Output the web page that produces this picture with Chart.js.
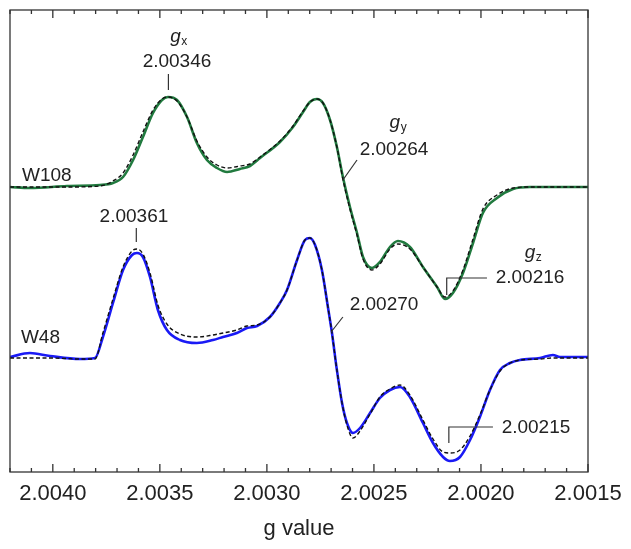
<!DOCTYPE html>
<html>
<head>
<meta charset="utf-8">
<script src="https://cdn.jsdelivr.net/npm/chart.js@4.4.1/dist/chart.umd.min.js"></script>
<style>
  body { margin: 0; background: #fff; }
</style>
</head>
<body>
<canvas id="epr" width="631" height="549"></canvas>
<script>
// W108 spectrum: g value, experiment, simulation (a.u., relative to its baseline)
const w108G = [2.004200, 2.004107, 2.003934, 2.003780, 2.003719, 2.003672, 2.003625, 2.003579, 2.003532, 2.003490,
  2.003462, 2.003420, 2.003373, 2.003327, 2.003280, 2.003233, 2.003186, 2.003126, 2.003079, 2.003032,
  2.002939, 2.002878, 2.002831, 2.002799, 2.002766, 2.002738, 2.002705, 2.002673, 2.002645, 2.002612,
  2.002579, 2.002551, 2.002509, 2.002472, 2.002425, 2.002388, 2.002332, 2.002271, 2.002205, 2.002168,
  2.002131, 2.002084, 2.002037, 2.001991, 2.001925, 2.001850, 2.001771, 2.001631, 2.001500];
const w108Exp = [0, -1, 1, 2, 4, 10, 27, 50, 74, 87,
  90, 87, 70, 44, 27, 19, 15, 18, 21, 29,
  45, 60, 75, 85, 88, 84, 67, 40, 10, -20,
  -46, -70, -81, -75, -60, -54, -60, -80, -100, -112,
  -106, -86, -56, -26, -11, -2, 0, 0, 0];
const w108Sim = [0, 0, 0, 1, 6, 14, 32, 55, 77, 88,
  90, 86, 70, 46, 30, 22, 19, 21, 23, 30,
  46, 61, 76, 85, 88, 84, 67, 40, 8, -22,
  -48, -72, -83, -77, -62, -57, -62, -80, -100, -110,
  -104, -83, -52, -22, -8, -1, 0, 0, 0];

// W48 spectrum
const w48G = [2.004200, 2.004107, 2.004013, 2.003873, 2.003803, 2.003766, 2.003719, 2.003672, 2.003630, 2.003607,
  2.003579, 2.003546, 2.003509, 2.003467, 2.003406, 2.003327, 2.003252, 2.003205, 2.003140, 2.003093,
  2.003046, 2.002986, 2.002939, 2.002906, 2.002859, 2.002822, 2.002799, 2.002775, 2.002743, 2.002715,
  2.002696, 2.002673, 2.002649, 2.002626, 2.002598, 2.002565, 2.002518, 2.002472, 2.002425, 2.002378,
  2.002332, 2.002271, 2.002224, 2.002177, 2.002145, 2.002098, 2.002051, 2.002005, 2.001958, 2.001911,
  2.001864, 2.001818, 2.001724, 2.001664, 2.001631, 2.001552, 2.001500];
const w48Exp = [0, 4, 1, -2, -1, 20, 54, 87, 102, 104,
  100, 80, 47, 27, 17, 14, 17, 20, 24, 29,
  31, 40, 54, 67, 97, 117, 119, 112, 87, 50,
  24, -13, -46, -66, -76, -71, -56, -41, -33, -30,
  -40, -66, -86, -100, -104, -100, -83, -60, -33, -13,
  -6, -3, -1, 2, 0, 0, 0];
const w48Sim = [-1, -1, -1, -2, -2, 24, 58, 90, 106, 108,
  103, 84, 52, 33, 23, 20, 22, 24, 27, 31,
  32, 40, 54, 67, 97, 117, 119, 112, 87, 50,
  24, -13, -46, -68, -81, -74, -57, -40, -32, -28,
  -38, -63, -82, -95, -96, -93, -79, -58, -33, -14,
  -6, -3, -2, -1, -1, -1, -1];

const w108Offset = 285;
const w48Offset = 115;

const gTicks = [2.0040, 2.0035, 2.0030, 2.0025, 2.0020, 2.0015];

// annotations, in data units (g, intensity)
const gLabels = [
  { sub: 'x', g: 2.003413, y: 430 },
  { sub: 'y', g: 2.002388, y: 344 },
  { sub: 'z', g: 2.001757, y: 214 }
];
const valueLabels = [
  { text: '2.00346', g: 2.003420, y: 410 },
  { text: '2.00264', g: 2.002406, y: 322 },
  { text: '2.00216', g: 2.001771, y: 194 },
  { text: '2.00361', g: 2.003621, y: 255 },
  { text: '2.00270', g: 2.002453, y: 167 },
  { text: '2.00215', g: 2.001743, y: 44 }
];
const leaders = [
  [[2.00346, 398], [2.00346, 382]],
  [[2.002579, 312], [2.002645, 292]],
  [[2.001972, 194], [2.00216, 194], [2.00216, 177]],
  [[2.00361, 244], [2.00361, 230]],
  [[2.002645, 155], [2.00270, 140]],
  [[2.001944, 45], [2.00215, 45], [2.00215, 29]]
];
const sampleLabels = [
  { text: 'W108', g: 2.004144, y: 296 },
  { text: 'W48', g: 2.004149, y: 134 }
];

const family = '"Liberation Sans", Arial, sans-serif';

function pts(gs, vals, off) {
  return gs.map((g, i) => ({ x: g, y: vals[i] + off }));
}

const framePlugin = {
  id: 'frame',
  afterDatasetsDraw(chart) {
    const { ctx, chartArea: a, scales: { x, y } } = chart;
    ctx.save();
    ctx.strokeStyle = '#333';
    ctx.lineWidth = 1.3;
    ctx.strokeRect(a.left, a.top, a.right - a.left, a.bottom - a.top);

    // inward ticks top and bottom, minor every 0.0001
    ctx.beginPath();
    for (let k = 15; k <= 42; k++) {
      const px = x.getPixelForValue(2 + k / 10000);
      const len = k % 5 === 0 ? 8 : 4;
      ctx.moveTo(px, a.top); ctx.lineTo(px, a.top + len);
      ctx.moveTo(px, a.bottom); ctx.lineTo(px, a.bottom - len);
    }
    ctx.stroke();

    // leader lines
    ctx.lineWidth = 1.2;
    ctx.strokeStyle = '#333';
    leaders.forEach(line => {
      ctx.beginPath();
      line.forEach(([g, v], i) => {
        const px = x.getPixelForValue(g), py = y.getPixelForValue(v);
        if (i === 0) ctx.moveTo(px, py); else ctx.lineTo(px, py);
      });
      ctx.stroke();
    });

    ctx.fillStyle = '#222';
    ctx.textBaseline = 'middle';
    ctx.textAlign = 'center';
    ctx.font = '19px ' + family;
    valueLabels.forEach(l => {
      ctx.fillText(l.text, x.getPixelForValue(l.g), y.getPixelForValue(l.y));
    });

    ctx.textAlign = 'left';
    sampleLabels.forEach(l => {
      ctx.fillText(l.text, x.getPixelForValue(l.g), y.getPixelForValue(l.y));
    });

    // italic g with subscript
    ctx.textBaseline = 'alphabetic';
    gLabels.forEach(l => {
      ctx.font = 'italic 19px ' + family;
      const wg = ctx.measureText('g').width;
      ctx.font = '12px ' + family;
      const ws = ctx.measureText(l.sub).width;
      const start = x.getPixelForValue(l.g) - (wg + ws) / 2;
      const base = y.getPixelForValue(l.y);
      ctx.font = 'italic 19px ' + family;
      ctx.fillText('g', start, base);
      ctx.font = '12px ' + family;
      ctx.fillText(l.sub, start + wg + 0.5, base + 3);
    });
    ctx.restore();
  }
};

new Chart(document.getElementById('epr'), {
  type: 'line',
  data: {
    datasets: [
      { label: 'W108 sim', data: pts(w108G, w108Sim, w108Offset), borderColor: '#111', borderWidth: 1.4, borderDash: [4, 2.5] },
      { label: 'W48 sim', data: pts(w48G, w48Sim, w48Offset), borderColor: '#111', borderWidth: 1.4, borderDash: [4, 2.5] },
      { label: 'W108', data: pts(w108G, w108Exp, w108Offset), borderColor: '#217a3f', borderWidth: 2.6 },
      { label: 'W48', data: pts(w48G, w48Exp, w48Offset), borderColor: '#1a1af5', borderWidth: 2.6 }
    ]
  },
  options: {
    responsive: false,
    animation: false,
    devicePixelRatio: 1,
    layout: { padding: { left: 10, right: 43, top: 10, bottom: 0 } },
    elements: {
      point: { radius: 0 },
      line: { cubicInterpolationMode: 'monotone', fill: false }
    },
    plugins: { legend: { display: false }, tooltip: { enabled: false } },
    scales: {
      x: {
        type: 'linear',
        reverse: true,
        min: 2.0015,
        max: 2.0042,
        afterBuildTicks: s => { s.ticks = gTicks.map(v => ({ value: v })); },
        afterFit: s => { s.height = 77; },
        grid: { display: false, drawTicks: false },
        border: { display: false },
        ticks: {
          callback: v => Number(v).toFixed(4),
          padding: 9,
          color: '#222',
          maxRotation: 0,
          autoSkip: false,
          font: { family: family, size: 22 }
        },
        title: {
          display: true,
          text: 'g value',
          color: '#222',
          font: { family: family, size: 22 },
          padding: { top: 0, bottom: 7 }
        }
      },
      y: { display: false, min: 0, max: 462 }
    }
  },
  plugins: [framePlugin]
});
</script>
</body>
</html>
